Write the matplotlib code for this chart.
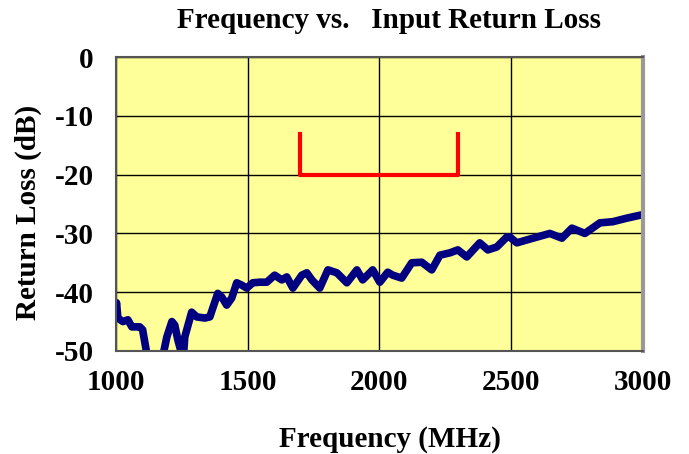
import numpy as np
import matplotlib.pyplot as plt

freq = [1000, 1003, 1008, 1027, 1046, 1061, 1091, 1102, 1118, 1135, 1160, 1178,
        1194, 1213, 1224, 1235, 1250, 1255, 1262, 1288, 1307, 1338, 1357, 1387,
        1402, 1421, 1440, 1459, 1478, 1497, 1520, 1546, 1573, 1603, 1630, 1649,
        1672, 1706, 1725, 1744, 1774, 1805, 1839, 1877, 1915, 1937, 1964, 1975,
        2002, 2032, 2051, 2085, 2123, 2161, 2199, 2230, 2268, 2298, 2332, 2381,
        2412, 2446, 2484, 2495, 2522, 2560, 2647, 2693, 2731, 2780, 2837, 2886,
        2939, 2989, 3000]
rl = [-42.5, -41.8, -44.4, -45.0, -44.7, -45.9, -45.9, -46.4, -50.5, -55.0, -55.0, -51.0,
      -47.6, -45.0, -45.6, -48.0, -50.5, -52.0, -47.6, -43.4, -44.2, -44.4, -44.2, -40.2,
      -40.8, -42.2, -41.0, -38.4, -38.8, -39.3, -38.4, -38.3, -38.3, -37.1, -37.9, -37.4,
      -39.3, -37.1, -36.7, -37.9, -39.3, -36.2, -36.7, -38.4, -36.2, -37.9, -36.7, -36.2,
      -38.3, -36.6, -37.1, -37.6, -35.0, -34.9, -36.2, -33.7, -33.3, -32.8, -34.0, -31.6,
      -32.8, -32.3, -30.6, -30.6, -31.6, -31.1, -30.0, -30.8, -29.1, -30.0, -28.2, -28.0,
      -27.4, -26.9, -26.8]

# spec bracket
spec_f = [1700, 1700, 2300, 2300]
spec_db = [-13, -20, -20, -13]

xticks = [1000, 1500, 2000, 2500, 3000]
yticks = [0, -10, -20, -30, -40, -50]

plt.rcParams['font.family'] = ['Liberation Serif', 'DejaVu Serif']
plt.rcParams['font.weight'] = 'bold'
plt.rcParams['axes.unicode_minus'] = False

fig = plt.figure(figsize=(6.89, 4.54), dpi=100)
ax = fig.add_axes([0.168, 0.227, 0.765, 0.647])
ax.set_facecolor('#FFFF99')

ax.plot(freq, rl, color='#000080', lw=5.5, solid_capstyle='round', solid_joinstyle='round')
ax.plot(spec_f, spec_db, color='red', lw=3)

ax.set_xlim(1000, 3000)
ax.set_ylim(-50, 0)
ax.set_xticks(xticks)
ax.set_yticks(yticks)
ax.grid(True, color='black', lw=1)
ax.set_axisbelow(True)
ax.tick_params(length=0, labelsize=21)
ax.tick_params(axis='x', pad=13)
ax.tick_params(axis='y', pad=16)
for lab in ax.get_xticklabels() + ax.get_yticklabels():
    lab.set_fontweight('bold')
for s in ax.spines.values():
    s.set_color('#555555')
    s.set_linewidth(1.5)
ax.spines['right'].set_color('#999999')
ax.spines['right'].set_linewidth(3)

ax.set_xlabel('Frequency (MHz)', fontsize=21, fontweight='bold')
ax.set_ylabel('Return Loss (dB)', fontsize=21, fontweight='bold')
ax.xaxis.set_label_coords(0.52, -0.255)
ax.yaxis.set_label_coords(-0.14, 0.47)
fig.text(0.565, 0.955, 'Frequency vs.   Input Return Loss', fontsize=21,
         fontweight='bold', ha='center', va='center')

fig.savefig('out.png', dpi=100)
